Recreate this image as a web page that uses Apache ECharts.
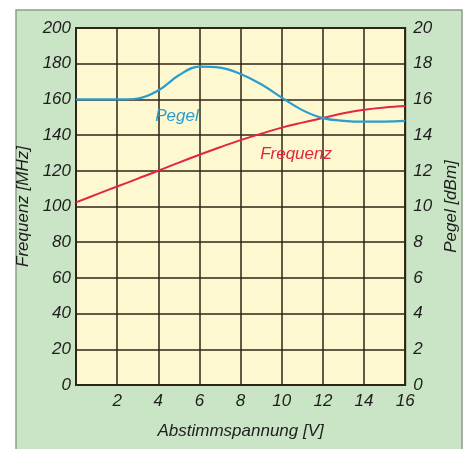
<!DOCTYPE html>
<html>
<head>
<meta charset="utf-8">
<script src="https://cdn.jsdelivr.net/npm/echarts@6/dist/echarts.min.js"></script>
<style>
  html, body { margin: 0; padding: 0; background: #ffffff; }
  #chart { width: 468px; height: 449px; }
</style>
</head>
<body>
<div id="chart"></div>
<script>
// Tuning voltage in volts
const spannung = [0, 1, 2, 3, 4, 5, 6, 7, 8, 9, 10, 11, 12, 13, 14, 15, 16];
// Oscillator frequency in MHz
const frequenz = [102.3, 106.8, 111.2, 115.6, 120, 124.6, 129, 133.2, 137.2, 140.8, 144.2, 147, 149.6, 152.2, 154.2, 155.5, 156.3];
// Output level in dBm
const pegel = [16.0, 16.0, 16.0, 16.05, 16.5, 17.35, 17.84, 17.78, 17.42, 16.85, 16.1, 15.4, 14.95, 14.8, 14.75, 14.76, 14.8];

const FONT = 'Liberation Sans, Arial, sans-serif';
const INK = '#1e1e1e';
const GRIDLINE = '#2e2616';
const BLUE = '#2a9ccd';
const RED = '#e5243f';

const pairs = (xs, ys) => xs.map((x, i) => [x, ys[i]]);

const labelStyle = { fontFamily: FONT, fontStyle: 'italic', fontSize: 17, color: INK };

const panel = {
  type: 'rect', z: -10,
  shape: { x: 16, y: 10, width: 446, height: 450 },
  style: { fill: '#cae5c5', stroke: '#8f9c8c', lineWidth: 1.5 }
};

const chart = echarts.init(document.getElementById('chart'), null, { renderer: 'canvas' });

chart.setOption({
  animation: false,
  backgroundColor: '#ffffff',
  graphic: [panel],
  grid: {
    left: 76, right: 61, top: 28, bottom: 64,
    show: true,
    backgroundColor: '#fdf8cf',
    borderColor: GRIDLINE,
    borderWidth: 2
  },
  xAxis: {
    type: 'value', min: 0, max: 16, interval: 2,
    name: 'Abstimmspannung [V]', nameLocation: 'middle', nameGap: 38,
    nameTextStyle: labelStyle,
    axisLine: { show: false },
    axisTick: { show: false },
    axisLabel: Object.assign({ margin: 8, formatter: v => (v === 0 ? '' : String(v)) }, labelStyle),
    splitLine: { show: true, lineStyle: { color: GRIDLINE, width: 1.5 } }
  },
  yAxis: [
    {
      type: 'value', min: 0, max: 200, interval: 20, position: 'left',
      name: 'Frequenz [MHz]', nameLocation: 'middle', nameGap: 43, nameRotate: 90,
      nameTextStyle: labelStyle,
      axisLine: { show: false },
      axisTick: { show: false },
      axisLabel: Object.assign({ margin: 5 }, labelStyle),
      splitLine: { show: true, lineStyle: { color: GRIDLINE, width: 1.5 } }
    },
    {
      type: 'value', min: 0, max: 20, interval: 2, position: 'right',
      name: 'Pegel [dBm]', nameLocation: 'middle', nameGap: 30, nameRotate: 90,
      nameTextStyle: labelStyle,
      axisLine: { show: false },
      axisTick: { show: false },
      axisLabel: Object.assign({ margin: 8 }, labelStyle),
      splitLine: { show: false }
    }
  ],
  series: [
    {
      name: 'Frequenz', type: 'line', yAxisIndex: 0,
      data: pairs(spannung, frequenz),
      smooth: 0.4, showSymbol: false,
      lineStyle: { color: RED, width: 2 },
      z: 3
    },
    {
      name: 'Pegel', type: 'line', yAxisIndex: 1,
      data: pairs(spannung, pegel),
      smooth: 0.4, showSymbol: false,
      lineStyle: { color: BLUE, width: 2.2 },
      z: 4
    }
  ]
});

// Curve captions placed in data coordinates
const pegelPos = chart.convertToPixel({ xAxisIndex: 0, yAxisIndex: 1 }, [3.85, 15.05]);
const freqPos = chart.convertToPixel({ xAxisIndex: 0, yAxisIndex: 0 }, [8.95, 129]);
chart.setOption({
  graphic: [
    panel,
    { type: 'text', x: pegelPos[0], y: pegelPos[1], z: 10,
      style: { text: 'Pegel', font: 'italic 17px ' + FONT, fill: BLUE, textVerticalAlign: 'middle' } },
    { type: 'text', x: freqPos[0], y: freqPos[1], z: 10,
      style: { text: 'Frequenz', font: 'italic 17px ' + FONT, fill: RED, textVerticalAlign: 'middle' } }
  ]
});
</script>
</body>
</html>
